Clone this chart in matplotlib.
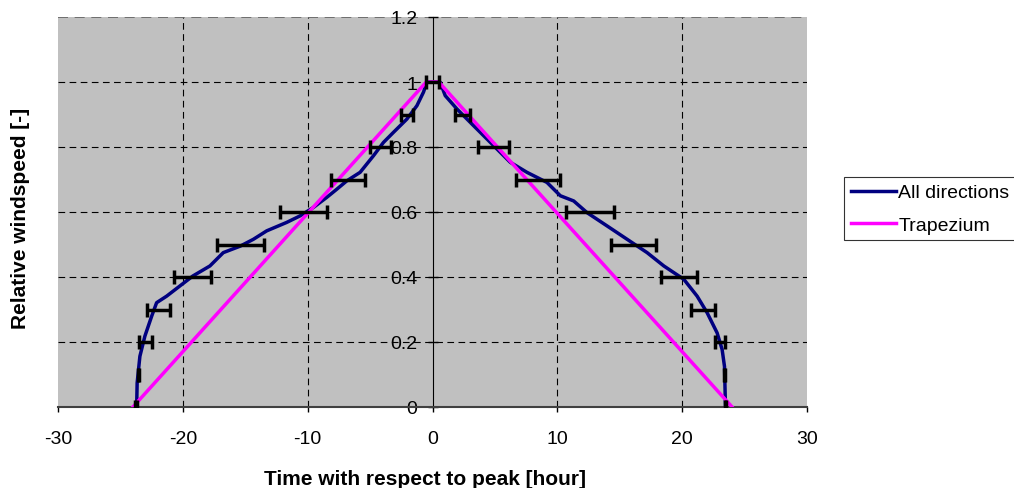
import matplotlib
matplotlib.use('Agg')
from matplotlib import pyplot as plt

plt.rcParams['font.family'] = ['Liberation Sans', 'DejaVu Sans']
plt.rcParams['axes.unicode_minus'] = False

# Measured relative windspeed over the storm, all directions combined
hours = [-23.7, -23.66, -23.44, -23.04, -22.5, -22.1, -21.3, -20.25, -19.2, -17.83,
         -16.76, -15.4, -14.35, -13.28, -11.68, -10.61, -9.54, -8.47, -7.67, -6.86,
         -5.8, -4.73, -3.93, -3.13, -2.05, -1.25, -0.72, -0.45, -0.2, 0.2,
         0.62, 1.02, 1.96, 3.02, 4.09, 5.16, 6.23, 7.57, 9.17, 10.24,
         11.31, 12.38, 13.99, 15.59, 17.19, 18.53, 20.13, 21.2, 22.0, 22.8,
         23.2, 23.39, 23.47]
windspeed = [0.0, 0.074, 0.156, 0.218, 0.279, 0.321, 0.341, 0.372, 0.403, 0.434,
             0.475, 0.495, 0.516, 0.542, 0.568, 0.588, 0.614, 0.645, 0.670, 0.696,
             0.722, 0.773, 0.814, 0.845, 0.886, 0.927, 0.969, 1.0, 1.0, 1.0,
             0.999, 0.958, 0.917, 0.876, 0.835, 0.794, 0.753, 0.722, 0.691, 0.650,
             0.634, 0.598, 0.557, 0.516, 0.475, 0.434, 0.393, 0.341, 0.290, 0.228,
             0.177, 0.125, 0.0]

# Schematised trapezium storm
trap_hours = [-24.0, -0.5, 0.5, 24.0]
trap_speed = [0.0, 1.0, 1.0, 0.0]

# Spread in time per windspeed level (centre and half width, hours)
bar_levels = [0.0, 0.1, 0.2, 0.3, 0.4, 0.5, 0.6, 0.7, 0.8, 0.9,
              1.0,
              0.9, 0.8, 0.7, 0.6, 0.5, 0.4, 0.3, 0.2, 0.1, 0.0]
bar_centre = [-23.75, -23.55, -23.0, -21.97, -19.23, -15.4, -10.34, -6.77, -4.17, -2.05,
              0.0,
              2.42, 4.9, 8.46, 12.6, 16.13, 19.76, 21.67, 23.0, 23.39, 23.45]
bar_halfwidth = [0.05, 0.05, 0.5, 0.94, 1.46, 1.9, 1.87, 1.38, 0.83, 0.48,
                 0.52,
                 0.6, 1.22, 1.78, 1.92, 1.8, 1.44, 1.0, 0.4, 0.05, 0.05]

fig = plt.figure(figsize=(10.14, 4.89), dpi=100)
ax = fig.add_axes([58 / 1014, 1 - 408 / 489, 749 / 1014, 390 / 489])
ax.set_facecolor('#C0C0C0')

ax.plot(hours, windspeed, color='#000080', lw=2.5, label='All directions', zorder=3)
ax.plot(trap_hours, trap_speed, color='#FF00FF', lw=2.5, label='Trapezium', zorder=3)
ax.errorbar(bar_centre, bar_levels, xerr=bar_halfwidth, fmt='none', ecolor='black',
            elinewidth=2.5, capsize=5, capthick=2.5, zorder=4)

ax.set_xlim(-30, 30)
ax.set_ylim(0, 1.2)
ax.set_xticks(range(-30, 31, 10))
ax.set_yticks([0, 0.2, 0.4, 0.6, 0.8, 1.0, 1.2])
ax.set_yticklabels(['0', '0.2', '0.4', '0.6', '0.8', '1', '1.2'])

# y axis crosses at the peak, x axis at zero windspeed
ax.spines['left'].set_position(('data', 0))
ax.spines['left'].set_zorder(2)
ax.spines['right'].set_visible(False)
ax.spines['top'].set_visible(False)
ax.spines['bottom'].set_color('#404040')
ax.spines['bottom'].set_linewidth(1.5)
ax.tick_params(axis='x', direction='out', length=3.6, width=1, labelsize=14, pad=13)
ax.tick_params(axis='y', direction='inout', length=7, width=1, labelsize=14, pad=7.3)

for v in [-20, -10, 10, 20]:
    ax.axvline(v, color='black', lw=0.8, ls=(0, (6, 4)), zorder=1)
for v in [0.2, 0.4, 0.6, 0.8, 1.0]:
    ax.axhline(v, color='black', lw=0.8, ls=(0, (6, 4)), zorder=1)
ax.axhline(1.2, color='#606060', lw=1.2, ls=(0, (6, 4)), zorder=1)

fig.text(425 / 1014, 1 - 485 / 489, 'Time with respect to peak [hour]',
         fontsize=15, fontweight='bold', ha='center', va='baseline')
fig.text(21 / 1014, 1 - 218 / 489, 'Relative windspeed [-]', rotation=90,
         fontsize=15, fontweight='bold', ha='center', va='center')

leg = fig.legend(loc='upper left', bbox_to_anchor=(844 / 1014, 1 - 178 / 489),
                 frameon=True, fancybox=False, edgecolor='black', fontsize=14,
                 handlelength=2.3, handletextpad=0.15, borderpad=0.35,
                 labelspacing=0.75, borderaxespad=0)
leg.get_frame().set_linewidth(0.8)

fig.savefig('out.png', dpi=100)
